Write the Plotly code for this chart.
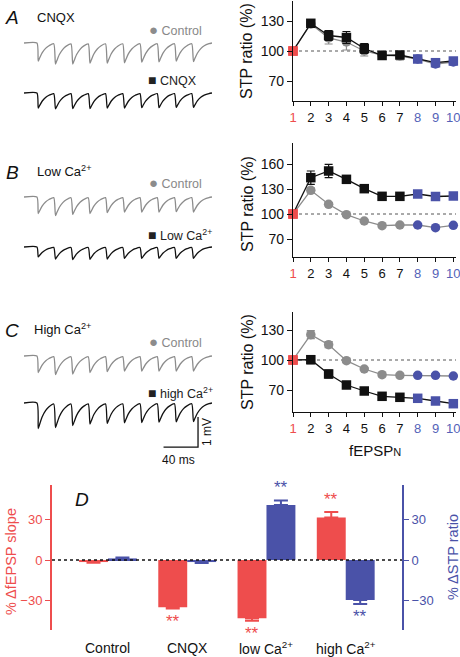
import plotly.graph_objects as go

W, H = 460, 657
FONT = "Liberation Sans, Arial, sans-serif"

RED = "#ee4d4d"
BLUE = "#4a52a8"
BLUE_T = "#5462b8"
GRAY = "#8c8c8c"
BLACK = "#111111"

# ---------------- STP data (fEPSP number 1..10) ----------------
PULSES = [1, 2, 3, 4, 5, 6, 7, 8, 9, 10]
PULSE_LABELS = ["1", "2", "3", "4", "5", "6", "7", "8", "9", "10"]

A_CTRL = [100, 127, 113, 109, 100, 96, 95, 92, 87, 89]
A_CTRL_ERR = [0, 2, 6, 8, 5, 4, 4, 2, 3, 3]
A_TRT = [100, 127.7, 115.5, 113.5, 102.5, 95.5, 96, 92, 88.3, 90]
A_TRT_ERR = [0, 2, 5, 6, 5, 4, 3, 2, 3, 3]

B_CTRL = [100, 128.4, 111.6, 99.2, 91.6, 86, 86.8, 86.8, 83.6, 86.4]
B_CTRL_ERR = [0, 3, 2, 1.5, 1.5, 1.5, 1.5, 1.5, 1.5, 1.5]
B_TRT = [100, 143.6, 151.6, 141.6, 130.4, 121.2, 121.2, 124, 121, 121.6]
B_TRT_ERR = [0, 8, 8, 3, 3, 3, 2, 2, 2, 2]

C_CTRL = [100, 125.3, 115.3, 99.3, 91, 85.3, 84.7, 84.7, 84.7, 84]
C_CTRL_ERR = [0, 4, 3, 2, 1.5, 2, 2, 1.5, 1.5, 1.5]
C_TRT = [100, 100.3, 86, 75, 69, 63.7, 62.7, 61.7, 59, 56.3]
C_TRT_ERR = [0, 4, 4, 2, 1.5, 1.5, 1.5, 1.5, 1.5, 1.5]

# ---------------- example traces (peak amplitude of each EPSP, mV) ----------------
ISI_MS = 20
PRE_MS = 15
END_MS = 218
A_CTRL_AMP = [0.60, 0.70, 0.70, 0.67, 0.67, 0.66, 0.64, 0.63, 0.60, 0.62]
A_TRT_AMP = [0.50, 0.53, 0.52, 0.52, 0.50, 0.50, 0.49, 0.49, 0.48, 0.48]
B_CTRL_AMP = [0.55, 0.62, 0.58, 0.55, 0.52, 0.50, 0.50, 0.50, 0.49, 0.50]
B_TRT_AMP = [0.33, 0.40, 0.42, 0.41, 0.40, 0.38, 0.38, 0.38, 0.38, 0.38]
C_CTRL_AMP = [0.55, 0.62, 0.60, 0.55, 0.52, 0.50, 0.50, 0.50, 0.50, 0.50]
C_TRT_AMP = [0.85, 0.82, 0.75, 0.70, 0.68, 0.66, 0.65, 0.64, 0.63, 0.62]
# EPSP waveform template: time after stimulus (ms), fraction of peak
TEMPLATE_T = [1.5, 3, 6, 10, 14, 19.5]
TEMPLATE_F = [1.0, 0.85, 0.55, 0.3, 0.15, 0.04]
SCALE_MS = 40
SCALE_MV = 1

# ---------------- panel D data ----------------
GROUPS = ["Control", "CNQX", "low Ca<sup>2+</sup>", "high Ca<sup>2+</sup>"]
SLOPE = [-1.5, -35, -43.2, 31.6]
SLOPE_ERR = [0.6, 1, 1.8, 4]
SLOPE_SIG = ["", "**", "**", "**"]
DSTP = [1.2, -1.5, 40.7, -29.6]
DSTP_ERR = [0.6, 0.7, 3.5, 3]
DSTP_SIG = ["", "", "**", "**"]


def fx(p):
    return p / W


def fy(p):
    return 1 - p / H


fig = go.Figure()


def point_colors(base):
    return [RED] + [base] * 6 + [BLUE] * 3


def stp_series(xa, ya, y, err, base, symbol_mid):
    symbols = ["square"] + [symbol_mid] * 9
    fig.add_trace(go.Scatter(
        x=PULSES, y=y, xaxis=xa, yaxis=ya, mode="lines+markers",
        line=dict(color=base, width=1.3),
        marker=dict(color=point_colors(base), symbol=symbols, size=9.5,
                    line=dict(width=0)),
        error_y=dict(type="data", array=err, color=base, thickness=1.2, width=4),
        showlegend=False, cliponaxis=False))


stp_series("x", "y", A_CTRL, A_CTRL_ERR, GRAY, "circle")
stp_series("x", "y", A_TRT, A_TRT_ERR, BLACK, "square")
stp_series("x2", "y2", B_CTRL, B_CTRL_ERR, GRAY, "circle")
stp_series("x2", "y2", B_TRT, B_TRT_ERR, BLACK, "square")
stp_series("x3", "y3", C_CTRL, C_CTRL_ERR, GRAY, "circle")
stp_series("x3", "y3", C_TRT, C_TRT_ERR, BLACK, "square")

tick_text = []
for i, lab in enumerate(PULSE_LABELS):
    col = RED if i == 0 else (BLUE_T if i >= 7 else BLACK)
    tick_text.append(f"<span style='color:{col}'>{lab}</span>")

stp_x = dict(domain=[fx(293), fx(456)], range=[1, 10.15], showline=True,
             linecolor=BLACK, linewidth=1.2, ticks="outside", ticklen=4,
             tickcolor=BLACK, tickvals=PULSES, ticktext=tick_text,
             tickfont=dict(size=13, family=FONT), showgrid=False,
             zeroline=False, automargin=False, ticklabeloverflow="allow")
stp_y = dict(showline=True, linecolor=BLACK, linewidth=1.2, ticks="outside",
             ticklen=5, tickcolor=BLACK, tickfont=dict(size=14, family=FONT, color=BLACK),
             showgrid=False, zeroline=False, automargin=False)

layout = dict(
    width=W, height=H, margin=dict(l=0, r=0, t=0, b=0, autoexpand=False),
    paper_bgcolor="white", plot_bgcolor="rgba(0,0,0,0)",
    font=dict(family=FONT, color=BLACK), showlegend=False,
)
layout["xaxis"] = dict(stp_x, anchor="y")
layout["yaxis"] = dict(stp_y, anchor="x", domain=[fy(101), fy(1)], range=[50, 150],
                       tickvals=[70, 100, 130])
layout["xaxis2"] = dict(stp_x, anchor="y2")
layout["yaxis2"] = dict(stp_y, anchor="x2", domain=[fy(257), fy(143)], range=[48.4, 185.2],
                        tickvals=[70, 100, 130, 160])
layout["xaxis3"] = dict(stp_x, anchor="y3")
layout["yaxis3"] = dict(stp_y, anchor="x3", domain=[fy(412), fy(312)], range=[48, 148],
                        tickvals=[70, 100, 130])

shapes = []
for xa, ya in [("x", "y"), ("x2", "y2"), ("x3", "y3")]:
    shapes.append(dict(type="line", xref=xa, yref=ya, x0=1, x1=10.15, y0=100, y1=100,
                       line=dict(color="#555", width=1, dash="dot"), layer="below"))

# ---------------- panel D ----------------
fig.add_trace(go.Bar(
    x=[0, 1, 2, 3], y=SLOPE, xaxis="x4", yaxis="y4", width=0.365, offset=-0.365,
    marker=dict(color=RED, line=dict(width=0)),
    error_y=dict(type="data", symmetric=False,
                 array=[e if v > 0 else 0 for v, e in zip(SLOPE, SLOPE_ERR)],
                 arrayminus=[e if v < 0 else 0 for v, e in zip(SLOPE, SLOPE_ERR)],
                 color=RED, thickness=2, width=7),
    showlegend=False))
fig.add_trace(go.Bar(
    x=[0, 1, 2, 3], y=DSTP, xaxis="x4", yaxis="y5", width=0.365, offset=0,
    marker=dict(color=BLUE, line=dict(width=0)),
    error_y=dict(type="data", symmetric=False,
                 array=[e if v > 0 else 0 for v, e in zip(DSTP, DSTP_ERR)],
                 arrayminus=[e if v < 0 else 0 for v, e in zip(DSTP, DSTP_ERR)],
                 color=BLUE, thickness=2, width=7),
    showlegend=False))

D_RANGE = [-51.85, 55.6]
layout["xaxis4"] = dict(domain=[fx(52), fx(402)], range=[-0.706, 3.71], anchor="y4",
                        visible=False, automargin=False)
layout["yaxis4"] = dict(domain=[fy(630), fy(485)], range=D_RANGE, anchor="x4",
                        showline=True, linecolor=RED, linewidth=2, ticks="outside",
                        ticklen=5, tickcolor=RED, tickvals=[-30, 0, 30],
                        tickfont=dict(size=13, color=RED, family=FONT),
                        showgrid=False, zeroline=False, automargin=False)
layout["yaxis5"] = dict(overlaying="y4", side="right", range=D_RANGE, anchor="x4",
                        showline=True, linecolor=BLUE, linewidth=2, ticks="outside",
                        ticklen=5, tickcolor=BLUE, tickvals=[-30, 0, 30],
                        tickfont=dict(size=13, color=BLUE, family=FONT),
                        showgrid=False, zeroline=False, automargin=False)
layout["barmode"] = "overlay"
shapes.append(dict(type="line", xref="x4 domain", yref="y4", x0=0, x1=1, y0=0, y1=0,
                   line=dict(color=BLACK, width=1.6, dash="dot"), layer="above"))

# ---------------- example traces ----------------
def build_trace(amps):
    t = [0, PRE_MS]
    v = [0, 0]
    for k, a in enumerate(amps):
        t0 = PRE_MS + k * ISI_MS
        for dt, f in zip(TEMPLATE_T, TEMPLATE_F):
            t.append(t0 + dt)
            v.append(-a * f)
    t.append(END_MS)
    v.append(0)
    return t, v


trace_specs = [
    (A_CTRL_AMP, GRAY, 43, False),
    (A_TRT_AMP, BLACK, 93, False),
    (B_CTRL_AMP, GRAY, 197, False),
    (B_TRT_AMP, BLACK, 247, False),
    (C_CTRL_AMP, GRAY, 356, False),
    (C_TRT_AMP, BLACK, 403, True),
]
PX_PER_MV = 30
for i, (amps, col, base, with_scale) in enumerate(trace_specs):
    n = 6 + i
    xa, ya = f"x{n}", f"y{n}"
    tt, vv = build_trace(amps)
    fig.add_trace(go.Scatter(x=tt, y=vv, xaxis=xa, yaxis=ya, mode="lines",
                             line=dict(color=col, width=1.3, shape="spline", smoothing=0.6),
                             showlegend=False))
    lo = -1.6 if with_scale else -1.0
    hi = 0.2
    layout[f"xaxis{n}"] = dict(domain=[fx(24), fx(212)], range=[0, END_MS], anchor=ya,
                               visible=False, automargin=False)
    layout[f"yaxis{n}"] = dict(domain=[fy(base - lo * PX_PER_MV), fy(base - hi * PX_PER_MV)],
                               range=[lo, hi], anchor=xa, visible=False, automargin=False)
    if with_scale:
        t_end = 201.8
        y_b = -1.47
        fig.add_trace(go.Scatter(
            x=[t_end - SCALE_MS, t_end, t_end], y=[y_b, y_b, y_b + SCALE_MV],
            xaxis=xa, yaxis=ya, mode="lines", line=dict(color=BLACK, width=1.3),
            showlegend=False, cliponaxis=False))

# ---------------- annotations ----------------
ann = []


def txt(x, y, text, size=13, color=BLACK, xanchor="center", yanchor="middle",
        angle=0, italic=False):
    t = f"<i>{text}</i>" if italic else text
    ann.append(dict(x=fx(x), y=fy(y), xref="paper", yref="paper", text=t,
                    showarrow=False, xanchor=xanchor, yanchor=yanchor,
                    textangle=angle, font=dict(size=size, color=color, family=FONT)))


# panel letters and titles
txt(12, 17, "A", size=19, italic=True)
txt(35, 17, "CNQX", size=13, xanchor="left")
txt(12, 172, "B", size=19, italic=True)
txt(35, 171, "Low Ca<sup>2+</sup>", size=13, xanchor="left")
txt(12, 330, "C", size=19, italic=True)
txt(32, 329, "High Ca<sup>2+</sup>", size=13, xanchor="left")

# trace legends
for yc, ys, label in [(29, 80, "CNQX"), (182, 235, "Low Ca<sup>2+</sup>"),
                      (341, 393, "high Ca<sup>2+</sup>")]:
    txt(147, yc, "<span style='color:#8c8c8c;font-size:15px'>●</span> Control",
        size=12.5, color="#888888", xanchor="left")
    txt(146, ys, "<span style='font-size:14px'>■</span> " + label,
        size=12.5, color="#222222", xanchor="left")

# scale bar labels
txt(178, 460, f"{SCALE_MS} ms", size=12)
txt(207, 432, f"{SCALE_MV} mV", size=12, angle=-90)

# STP axis titles
for yc in [51, 204, 362]:
    txt(247, yc, "STP ratio (%)", size=16, angle=-90)
txt(375, 450, "fEPSP<span style='font-size:11px'>N</span>", size=15)

# panel D
txt(82, 499, "D", size=19, italic=True)
txt(11, 562, "% ΔfEPSP slope", size=14.5, color=RED, angle=-90)
txt(453, 557, "% ΔSTP ratio", size=14.5, color=BLUE, angle=-90)
for i, g in enumerate(GROUPS):
    ann.append(dict(x=i, y=fy(648), xref="x4", yref="paper", text=g, showarrow=False,
                    xanchor="center", yanchor="middle",
                    font=dict(size=14, color=BLACK, family=FONT)))
for i in range(4):
    for vals, errs, sig, col, off in [(SLOPE, SLOPE_ERR, SLOPE_SIG, RED, -0.1825),
                                      (DSTP, DSTP_ERR, DSTP_SIG, BLUE, 0.1825)]:
        if not sig[i]:
            continue
        v = vals[i]
        if v > 0:
            yv, ya_ = v + errs[i] + 1, "bottom"
        else:
            yv, ya_ = v - errs[i] - 1, "top"
        ref_y = "y4" if col == RED else "y5"
        ann.append(dict(x=i + off, y=yv, xref="x4", yref=ref_y, text=sig[i],
                        showarrow=False, xanchor="center", yanchor=ya_,
                        font=dict(size=17, color=col, family=FONT)))

layout["annotations"] = ann
layout["shapes"] = shapes
fig.update_layout(**layout)
fig.write_html("out.html", config={"displayModeBar": False},
               post_script="document.body.style.margin='0';")
